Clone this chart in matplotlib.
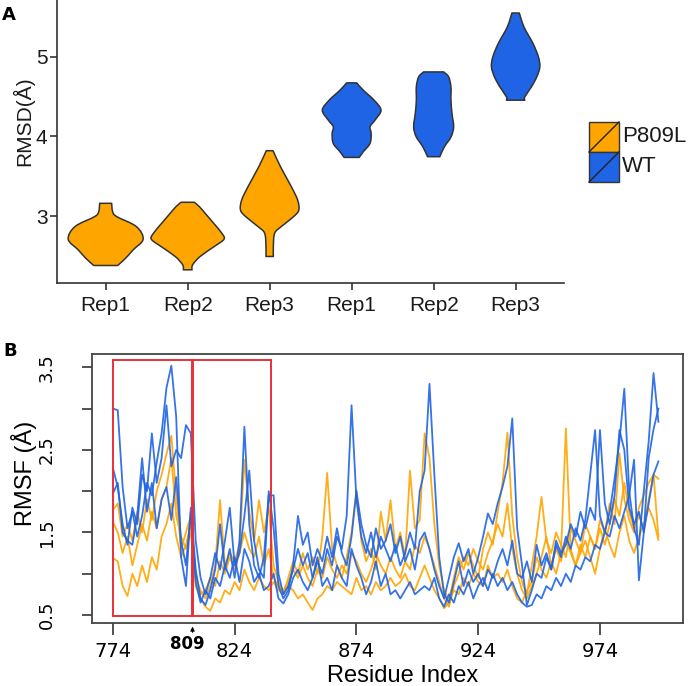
import numpy as np
import matplotlib.pyplot as plt
from matplotlib.patches import Rectangle, PathPatch
from matplotlib.path import Path

plt.rcParams['font.family'] = ['Liberation Sans', 'DejaVu Sans']

W, H = 693, 686
ORANGE = '#FFA500'
BLUE = '#1F64E4'
EDGE = '#333333'

# ---- panel A: violin outlines (RMSD level, half width) ----
rep_labels = ["Rep1", "Rep2", "Rep3", "Rep1", "Rep2", "Rep3"]
violin_colors = [ORANGE, ORANGE, ORANGE, BLUE, BLUE, BLUE]

p_rep1_y = [3.162, 3.058, 2.996, 2.871, 2.712, 2.579, 2.475, 2.383]
p_rep1_w = [0.073, 0.085, 0.134, 0.374, 0.457, 0.335, 0.244, 0.146]
p_rep2_y = [3.175, 3.121, 3.037, 2.912, 2.787, 2.712, 2.621, 2.496, 2.392, 2.329]
p_rep2_w = [0.081, 0.142, 0.213, 0.317, 0.417, 0.443, 0.325, 0.152, 0.061, 0.053]
p_rep3_y = [3.821, 3.621, 3.371, 3.204, 3.079, 2.996, 2.871, 2.787, 2.621, 2.496]
p_rep3_w = [0.041, 0.132, 0.264, 0.341, 0.356, 0.293, 0.142, 0.061, 0.045, 0.045]
wt_rep1_y = [4.671, 4.579, 4.454, 4.329, 4.204, 4.121, 4.037, 3.912, 3.808, 3.737]
wt_rep1_w = [0.061, 0.142, 0.274, 0.358, 0.285, 0.224, 0.238, 0.224, 0.142, 0.093]
wt_rep2_y = [4.808, 4.746, 4.621, 4.454, 4.287, 4.121, 3.996, 3.871, 3.746]
wt_rep2_w = [0.122, 0.183, 0.211, 0.211, 0.224, 0.244, 0.213, 0.132, 0.075]
wt_rep3_y = [5.546, 5.371, 5.162, 4.996, 4.871, 4.746, 4.621, 4.496, 4.454]
wt_rep3_w = [0.045, 0.102, 0.213, 0.278, 0.295, 0.258, 0.193, 0.112, 0.112]

# ---- panel B: RMSF per residue (every second residue) ----
residues = list(range(774, 999, 2))

wt_run1 = [3.00, 2.98, 2.05, 1.55, 1.75, 1.45, 1.70, 2.10, 1.95, 2.35,
           2.70, 3.25, 3.52, 2.90, 1.20, 0.85, 1.80, 1.05, 0.70, 0.62,
           0.80, 1.05, 1.60, 1.05, 1.30, 0.95, 1.40, 2.78, 1.60, 1.10,
           0.95, 1.20, 1.95, 1.95, 1.00, 0.75, 0.85, 1.05, 1.30, 1.10,
           1.25, 0.95, 1.15, 1.00, 1.30, 1.10, 1.45, 1.30, 1.70, 3.04,
           1.90, 1.45, 1.25, 1.50, 1.20, 1.45, 1.30, 1.15, 1.35, 1.10,
           1.25, 1.50, 1.30, 2.00, 2.25, 3.30, 2.20, 1.20, 0.75, 0.65,
           0.90, 1.15, 0.85, 1.05, 0.90, 1.00, 0.85, 1.05, 0.95, 1.15,
           1.30, 1.10, 1.40, 1.00, 0.95, 1.15, 0.90, 1.35, 1.10, 1.25,
           1.05, 1.35, 1.20, 1.45, 1.30, 1.55, 1.40, 1.65, 2.20, 2.74,
           1.70, 1.50, 1.75, 2.15, 2.60, 3.24, 2.00, 1.55, 1.35, 2.00,
           2.60, 3.43, 2.84]
wt_run2 = [2.28, 2.05, 1.60, 1.35, 1.80, 1.60, 2.20, 2.00, 2.70, 2.10,
           2.40, 3.04, 2.30, 2.50, 2.40, 2.80, 2.70, 1.40, 0.95, 0.75,
           0.95, 1.25, 1.05, 1.40, 1.80, 1.10, 1.25, 1.70, 2.25, 1.40,
           1.05, 0.95, 2.00, 1.55, 0.85, 0.70, 0.80, 1.10, 1.70, 1.35,
           1.50, 1.10, 1.30, 1.15, 1.45, 1.20, 1.55, 1.25, 1.10, 1.45,
           2.00, 1.60, 1.35, 1.20, 1.55, 1.30, 1.40, 1.60, 1.25, 1.45,
           1.15, 1.30, 1.05, 1.40, 1.50, 1.30, 1.05, 0.85, 0.70, 0.95,
           1.20, 1.37, 1.15, 1.30, 1.00, 1.20, 1.45, 1.73, 1.60, 1.85,
           2.05, 2.30, 2.88, 1.55, 1.10, 0.62, 0.80, 1.00, 0.95, 1.20,
           1.05, 1.40, 1.25, 1.35, 1.60, 1.45, 1.75, 1.55, 1.80, 1.65,
           2.74, 1.85, 1.60, 1.95, 2.74, 2.50, 1.80, 1.60, 1.75, 1.50,
           2.40, 2.75, 3.00]
wt_run3 = [1.97, 2.10, 1.50, 1.40, 1.35, 1.70, 2.40, 1.75, 2.10, 1.55,
           1.90, 2.05, 1.65, 2.17, 1.40, 1.10, 1.75, 0.90, 0.65, 0.80,
           0.70, 0.95, 0.85, 1.10, 0.95, 1.20, 0.90, 1.30, 1.15, 0.90,
           1.00, 0.80, 0.85, 1.00, 0.70, 0.64, 0.75, 0.95, 1.05, 0.90,
           0.80, 0.95, 1.20, 0.85, 0.95, 0.80, 1.10, 0.95, 0.85, 1.30,
           1.10, 0.95, 0.75, 0.90, 1.15, 0.85, 1.00, 0.75, 0.80, 0.70,
           0.80, 0.90, 0.75, 0.80, 0.85, 0.80, 0.95, 0.70, 0.60, 0.75,
           0.65, 0.85, 0.75, 0.90, 0.70, 0.85, 0.95, 0.80, 1.00, 0.85,
           0.95, 0.80, 0.90, 0.75, 0.65, 0.60, 0.62, 0.75, 0.70, 0.85,
           0.80, 0.95, 0.85, 1.00, 0.90, 1.10, 1.05, 1.20, 1.15, 1.35,
           1.30, 1.50, 1.45, 1.70, 1.55, 1.75, 1.95, 2.38, 0.92, 1.50,
           1.85, 2.20, 2.36]
mut_run1 = [1.19, 1.15, 0.85, 0.73, 1.00, 0.85, 1.10, 0.90, 1.20, 1.05,
            1.45, 1.60, 1.85, 1.45, 1.20, 1.35, 1.60, 0.85, 0.70, 0.60,
            0.55, 0.70, 0.65, 0.80, 0.75, 0.90, 0.80, 1.05, 0.90, 0.80,
            0.95, 0.85, 0.80, 0.90, 0.80, 0.75, 0.85, 0.80, 0.70, 0.75,
            0.65, 0.56, 0.70, 0.75, 0.85, 0.80, 0.90, 0.85, 0.80, 0.75,
            0.95, 0.80, 0.85, 0.75, 0.90, 0.80, 0.85, 0.95, 0.85, 0.90,
            1.00, 0.85, 0.80, 0.95, 1.10, 0.95, 0.80, 0.70, 0.58, 0.65,
            0.80, 0.75, 0.95, 0.85, 1.00, 0.90, 0.85, 1.10, 0.95, 1.00,
            0.90, 1.05, 0.85, 0.70, 0.65, 0.80, 0.90, 1.20, 1.05, 0.95,
            1.15, 1.00, 1.25, 2.76, 1.30, 1.10, 1.25, 1.40, 1.20, 1.00,
            1.30, 1.55, 1.35, 1.20, 1.50, 1.70, 1.40, 1.25, 1.45, 1.60,
            1.80, 1.65, 1.41]
mut_run2 = [1.63, 1.50, 1.25, 1.45, 1.10, 1.35, 1.60, 1.40, 1.75, 1.55,
            1.90, 2.05, 2.40, 1.70, 1.45, 1.30, 1.50, 0.95, 0.80, 0.70,
            0.85, 1.10, 1.89, 1.10, 1.25, 1.15, 1.35, 2.38, 1.75, 1.40,
            1.89, 1.50, 1.81, 1.10, 0.90, 0.75, 0.95, 1.15, 1.00, 1.25,
            1.05, 1.20, 1.00, 1.45, 2.22, 1.30, 1.10, 0.95, 1.20, 1.50,
            2.01, 1.40, 1.15, 1.30, 1.05, 1.75, 1.40, 1.89, 1.30, 1.50,
            1.20, 2.25, 1.55, 1.65, 2.70, 2.40, 1.60, 1.10, 0.80, 0.68,
            0.95, 1.20, 1.05, 1.25, 1.10, 0.95, 1.30, 1.50, 1.35, 1.75,
            2.10, 2.71, 1.70, 1.20, 0.90, 0.75, 1.10, 1.45, 1.93, 1.40,
            1.25, 1.50, 1.35, 1.20, 1.55, 1.40, 1.25, 1.60, 1.45, 1.30,
            1.65, 1.50, 1.85, 1.60, 2.46, 1.90, 1.65, 1.50, 1.80, 1.95,
            2.10, 2.20, 2.15]
mut_run3 = [1.77, 1.85, 1.45, 1.60, 1.40, 1.75, 1.50, 1.90, 1.65, 2.00,
            2.20, 2.45, 2.67, 1.95, 1.30, 1.50, 1.70, 1.00, 0.75, 0.80,
            0.95, 0.85, 1.15, 1.00, 1.20, 1.05, 1.25, 1.50, 1.30, 1.20,
            1.45, 1.10, 1.30, 0.95, 0.85, 0.80, 0.90, 1.05, 0.95, 1.10,
            0.95, 0.85, 1.05, 0.95, 1.20, 1.05, 0.95, 1.10, 1.00, 1.25,
            1.15, 1.00, 0.90, 1.05, 1.25, 1.10, 1.00, 1.20, 1.05, 0.95,
            1.15, 1.05, 1.35, 1.25, 1.45, 1.30, 1.10, 0.90, 0.70, 0.60,
            0.85, 1.00, 1.20, 1.10, 1.30, 1.15, 1.05, 1.25, 1.40, 1.60,
            1.45, 1.85, 1.30, 1.00, 0.80, 0.70, 0.85, 1.00, 1.20, 1.45,
            1.10, 1.30, 1.15, 1.40, 1.25, 1.10, 1.35, 1.20, 1.45, 1.30,
            1.55, 1.35, 1.60, 1.90, 1.70, 2.10, 1.75, 1.55, 1.70, 1.55,
            1.90, 2.20, 1.45]

x_ticks_b = [774, 824, 874, 924, 974]
y_ticks_b = [0.5, 1.0, 1.5, 2.0, 2.5, 3.0, 3.5]
y_ticklabels_b = ["0.5", "", "1.5", "", "2.5", "", "3.5"]


def smooth_side(pts):
    # Catmull-Rom through the outline points, as cubic bezier segments
    verts, codes = [], []
    n = len(pts)
    for i in range(n - 1):
        p0 = pts[max(i - 1, 0)]
        p1 = pts[i]
        p2 = pts[i + 1]
        p3 = pts[min(i + 2, n - 1)]
        c1 = p1 + (p2 - p0) / 6.0
        c2 = p2 - (p3 - p1) / 6.0
        verts += [c1, c2, p2]
        codes += [Path.CURVE4] * 3
    return verts, codes


def draw_violin(ax, pos, levels, halfw, color):
    levels = np.asarray(levels, float)
    halfw = np.asarray(halfw, float)
    right = np.column_stack([pos + halfw, levels])
    left = np.column_stack([pos - halfw, levels])[::-1]
    verts = [right[0]]
    codes = [Path.MOVETO]
    v, c = smooth_side(right)
    verts += v
    codes += c
    verts.append(left[0])
    codes.append(Path.LINETO)
    v, c = smooth_side(left)
    verts += v
    codes += c
    verts.append(right[0])
    codes.append(Path.CLOSEPOLY)
    ax.add_patch(PathPatch(Path(verts, codes), facecolor=color, edgecolor=EDGE,
                           lw=1.1, joinstyle='round'))


fig = plt.figure(figsize=(W / 100, H / 100), dpi=100)

# ---------------- panel A ----------------
axA = fig.add_axes([57.3 / W, 1 - 283.3 / H, (564 - 57.3) / W, 283.3 / H])
violins = [(p_rep1_y, p_rep1_w), (p_rep2_y, p_rep2_w), (p_rep3_y, p_rep3_w),
           (wt_rep1_y, wt_rep1_w), (wt_rep2_y, wt_rep2_w), (wt_rep3_y, wt_rep3_w)]
for i, (lev, hw) in enumerate(violins):
    draw_violin(axA, i + 1, lev, hw, violin_colors[i])
axA.set_xlim(0.41, 6.59)
axA.set_ylim(2.16, 5.709)
axA.set_xticks(range(1, 7))
axA.set_xticklabels(rep_labels)
axA.set_yticks([3, 4, 5])
for s in ['top', 'right']:
    axA.spines[s].set_visible(False)
for s in ['left', 'bottom']:
    axA.spines[s].set_color(EDGE)
    axA.spines[s].set_linewidth(1.2)
axA.tick_params(axis='both', length=5, width=1.2, color=EDGE, labelsize=15, labelcolor='#1a1a1a')
axA.tick_params(axis='x', pad=4)
axA.tick_params(axis='y', pad=2)

# ---------------- panel B ----------------
axB = fig.add_axes([91.7 / W, 1 - 623 / H, (683 - 91.7) / W, (623 - 354) / H])
for run in [mut_run1, mut_run2, mut_run3]:
    axB.plot(residues, run, color=ORANGE, lw=1.3, alpha=0.9)
for run in [wt_run1, wt_run2, wt_run3]:
    axB.plot(residues, run, color=BLUE, lw=1.3, alpha=0.9)
axB.add_patch(Rectangle((774, 0.49), 32.3, 3.1, fill=False, ec='#E8303A', lw=1.4, zorder=5))
axB.add_patch(Rectangle((806.9, 0.49), 32.2, 3.1, fill=False, ec='#E8303A', lw=1.4, zorder=5))
axB.set_xlim(765.3, 1008.1)
axB.set_ylim(0.403, 3.661)
axB.set_xticks(x_ticks_b)
axB.set_yticks(y_ticks_b)
axB.set_yticklabels(y_ticklabels_b, rotation=90, va='center')
for lab in axB.get_xticklabels() + axB.get_yticklabels():
    lab.set_family('DejaVu Sans')
for s in axB.spines.values():
    s.set_color('#444444')
    s.set_linewidth(1.3)
axB.tick_params(axis='x', length=8.5, width=1.2, color='#333333', labelsize=14, pad=5)
axB.tick_params(axis='y', length=7, width=1.2, color='#333333', labelsize=13, pad=19)
axB.set_xlabel('Residue Index', fontsize=17)
axB.set_ylabel('RMSF (Å)', fontsize=17)
axB.xaxis.set_label_coords(0.5265, -0.155)
axB.yaxis.set_label_coords(-0.092, 0.558)
axB.annotate('', xy=(806.7, -0.003), xytext=(806.7, -0.045),
             xycoords=axB.get_xaxis_transform(), textcoords=axB.get_xaxis_transform(),
             arrowprops=dict(arrowstyle='-|>', color='black', lw=0.8, mutation_scale=6))
axB.text(804.4, -0.078, '809', transform=axB.get_xaxis_transform(), ha='center', va='center',
         fontsize=12, fontweight='bold', family='DejaVu Sans')

# ---------------- overlay: labels and legend ----------------
ov = fig.add_axes([0, 0, 1, 1])
ov.set_xlim(0, W)
ov.set_ylim(H, 0)
ov.axis('off')
ov.text(9, 15, 'A', fontsize=13, fontweight='bold', ha='center', va='center', family='DejaVu Sans')
ov.text(10, 351, 'B', fontsize=13, fontweight='bold', ha='center', va='center', family='DejaVu Sans')
ov.text(23, 121, 'RMSD(Å)', fontsize=15, rotation=90, ha='center', va='center', color='#1a1a1a')
for k, (name, col) in enumerate([("P809L", ORANGE), ("WT", BLUE)]):
    y0 = 122 + 30 * k
    ov.add_patch(Rectangle((589, y0), 30, 30, facecolor=col, edgecolor=EDGE, lw=1.0))
    ov.plot([589, 619], [y0 + 30, y0], color='#222222', lw=1.0)
    ov.text(622, y0 + 15, name, fontsize=16, ha='left', va='center', color='#1a1a1a')

fig.savefig('out.png', dpi=100)
